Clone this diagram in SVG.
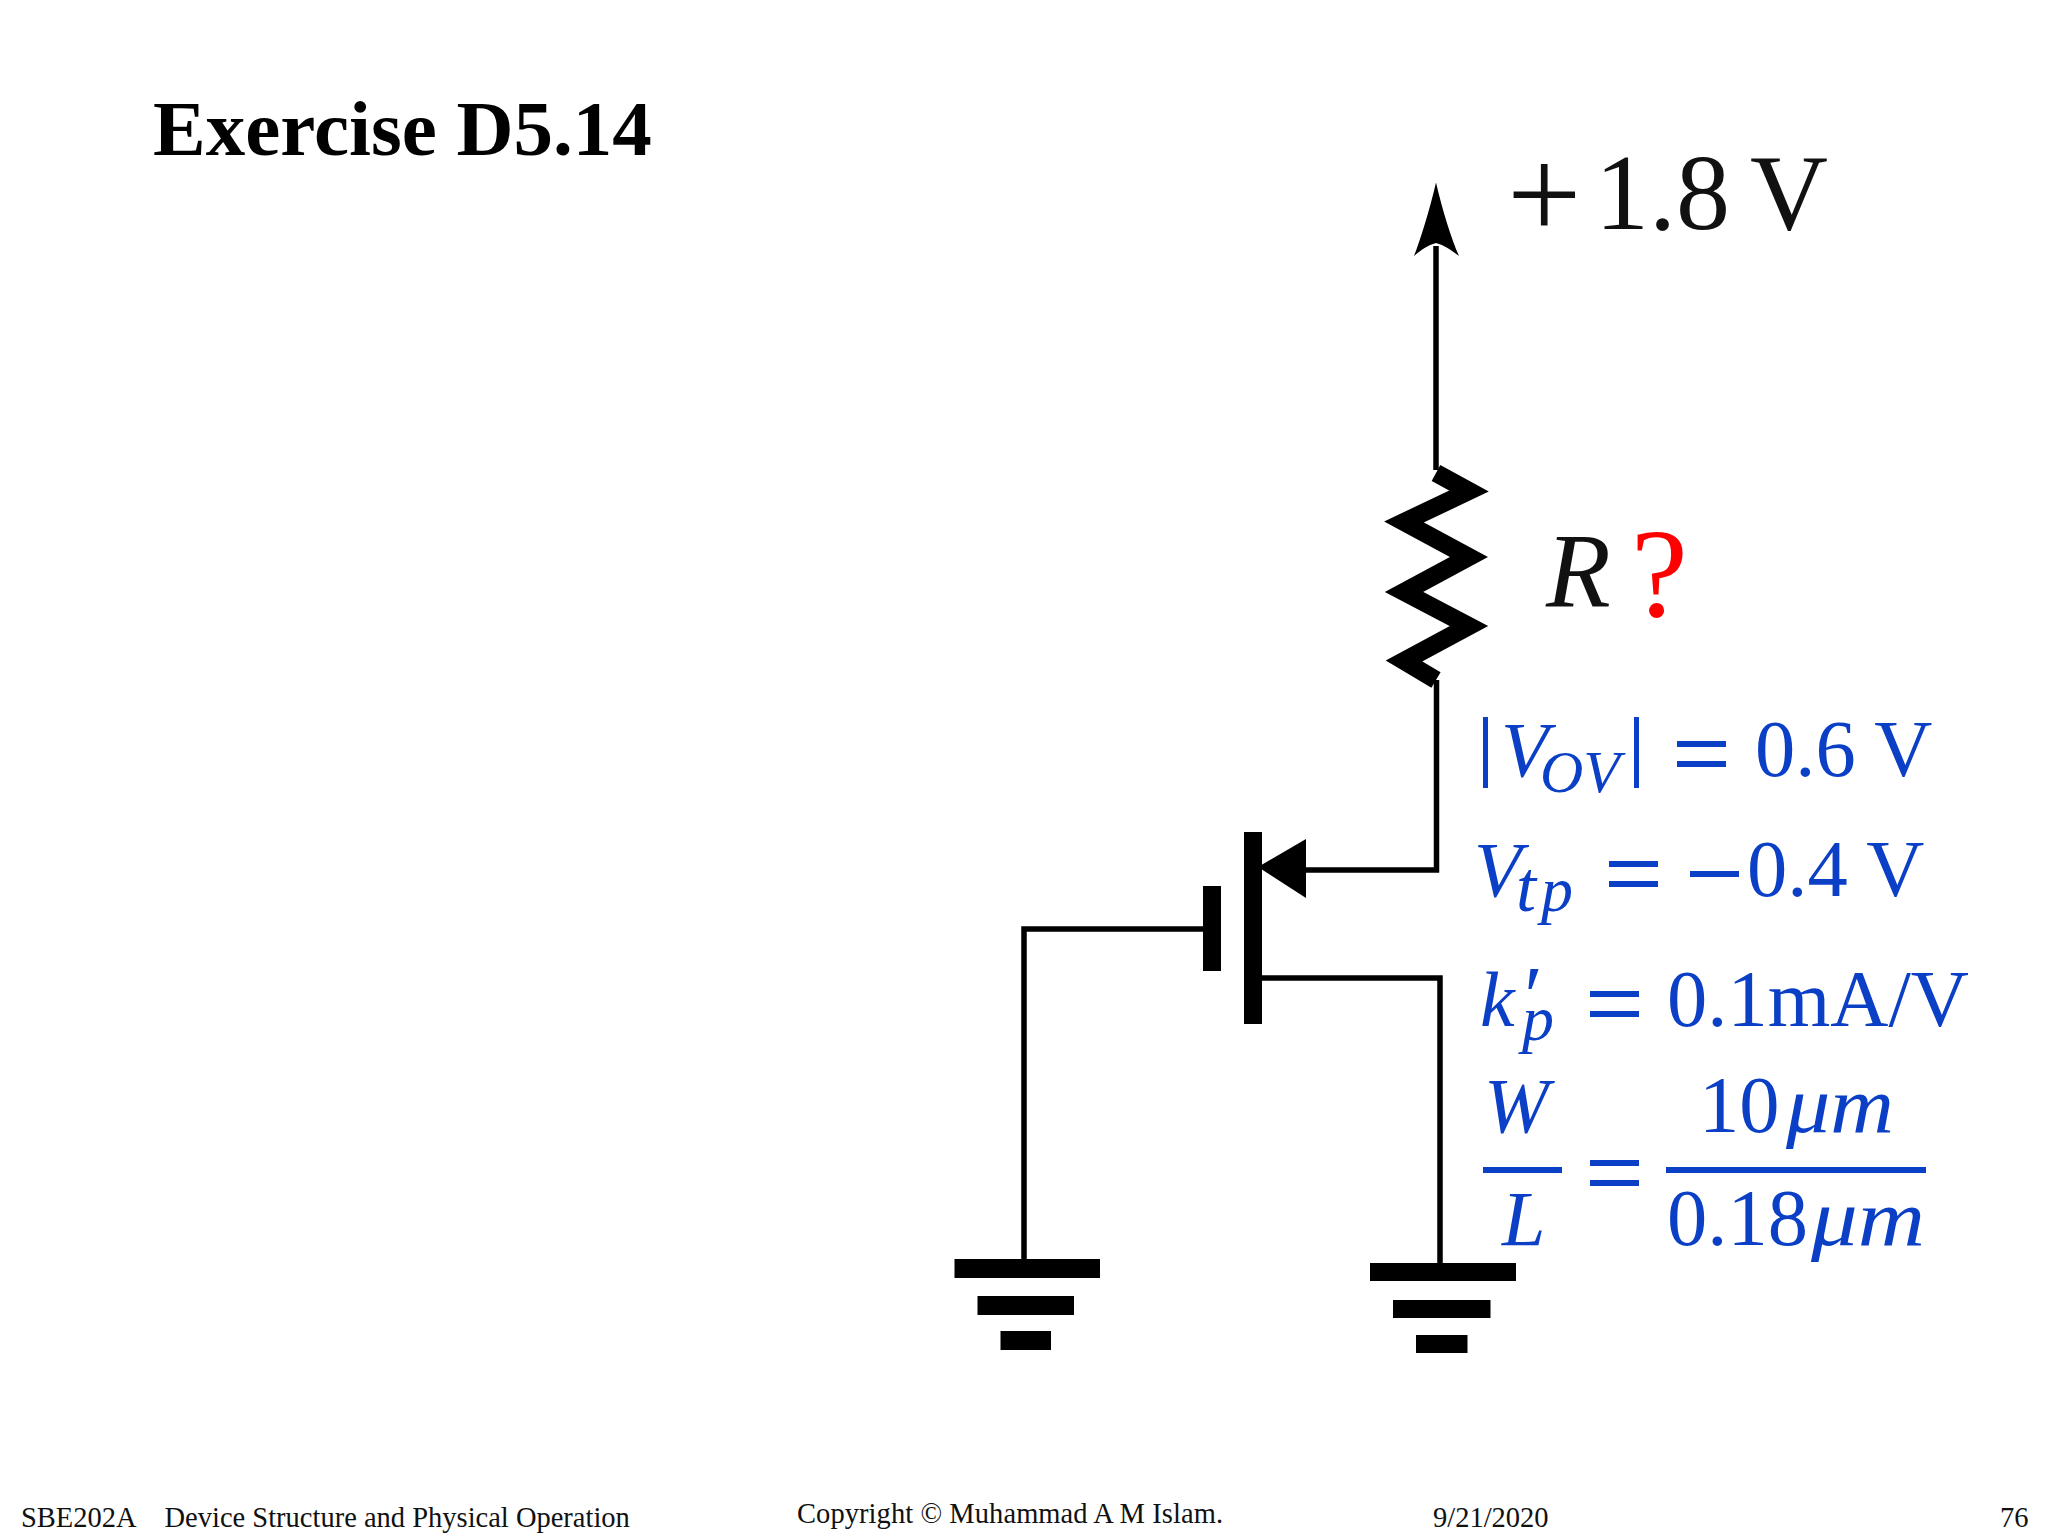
<svg xmlns="http://www.w3.org/2000/svg" width="2048" height="1536" viewBox="0 0 2048 1536">
<style>
text{font-family:"Liberation Serif","Times New Roman",serif}
.i{font-style:italic}
.b{fill:#0b3fc6}
.m{font-size:78px}
.n{font-size:80.5px}
.s{font-size:60px}
.f{font-size:28.5px;fill:#111}
.w{fill:none;stroke:#000;stroke-width:5.5;stroke-linejoin:miter}
.k{fill:#000}
.bb{fill:#0b3fc6}
.v{font-size:108px;fill:#111}
</style>
<rect width="2048" height="1536" fill="#fff"/>
<text id="title" x="153" y="155" font-size="79" font-weight="700" fill="#000">Exercise D5.14</text>
<g id="connectors">
<path class="w" d="M1436 246V470"/>
<path class="w" d="M1436.500 680V870H1300"/>
<path class="w" d="M1262 978H1440V1265"/>
<path class="w" d="M1203 929H1024V1260"/>
</g>
<g id="supply">
<path class="k" d="M1436 182.500C1443 212 1451 238 1459 256C1451 250 1444 245 1436 243C1428 245 1421 250 1414 256C1421 238 1429 212 1436 182.500Z"/>
<text class="v" x="1507" y="238" style="font-size:132px">+</text>
<text class="v" x="1595" y="229">1.8</text>
<text class="v" x="1750" y="229">V</text>
</g>
<g id="resistor">
<path fill="none" stroke="#000" stroke-width="18" stroke-miterlimit="6" d="M1436 473L1469 491L1404 522L1469 557L1404 592L1469 626L1404 661L1436 680"/>
<text class="i" x="1546" y="606" font-size="106" fill="#111">R</text>
<text x="1631" y="616" font-size="128" fill="#f00">?</text>
</g>
<g id="transistor">
<rect class="k" x="1244" y="832" width="18" height="192"/>
<rect class="k" x="1203" y="886" width="18" height="85"/>
<path class="k" d="M1258 867L1306 839V898Z"/>
</g>
<g id="ground-left">
<rect class="k" x="954.500" y="1259" width="145.500" height="19"/>
<rect class="k" x="977.500" y="1296" width="96.500" height="19"/>
<rect class="k" x="1000.500" y="1331" width="50.500" height="19"/>
</g>
<g id="ground-right">
<rect class="k" x="1370" y="1263" width="146" height="18"/>
<rect class="k" x="1393" y="1300" width="97.500" height="18"/>
<rect class="k" x="1416" y="1335" width="51.500" height="18"/>
</g>
<g id="params">
<g id="vov">
<rect class="bb" x="1483" y="717" width="5" height="71"/>
<text class="i b m" x="1501" y="776">V<tspan class="s" x="1540" y="792">OV</tspan></text>
<rect class="bb" x="1634" y="717" width="5" height="71"/>
<rect class="bb" x="1677" y="741" width="49" height="6"/>
<rect class="bb" x="1677" y="761" width="49" height="6"/>
<text class="b n" x="1755" y="776">0.6 V</text>
</g>
<g id="vtp">
<text class="i b m" x="1474" y="896">V<tspan style="font-size:72px" x="1516" y="911">t</tspan><tspan style="font-size:64px" x="1541" y="911">p</tspan></text>
<rect class="bb" x="1609" y="861" width="49" height="6"/>
<rect class="bb" x="1609" y="881" width="49" height="6"/>
<rect class="bb" x="1690" y="871" width="49" height="6"/>
<text class="b n" x="1747" y="896">0.4 V</text>
</g>
<g id="kp">
<text class="i b m" x="1480" y="1026">k<tspan style="font-size:85px" x="1519" y="1025">′</tspan><tspan style="font-size:64px" x="1522" y="1040">p</tspan></text>
<rect class="bb" x="1590" y="991" width="49" height="6"/>
<rect class="bb" x="1590" y="1011" width="49" height="6"/>
<text class="b n" x="1667" y="1026">0.1mA/V</text>
</g>
<g id="ratio">
<text class="i b m" x="1484" y="1132">W</text>
<rect class="bb" x="1483" y="1167" width="79" height="6"/>
<text class="i b m" x="1502" y="1245">L</text>
<rect class="bb" x="1590" y="1160" width="49" height="6"/>
<rect class="bb" x="1590" y="1180" width="49" height="6"/>
<text class="b n" x="1699" y="1132">10<tspan class="i" x="1786" textLength="108" lengthAdjust="spacingAndGlyphs">μm</tspan></text>
<rect class="bb" x="1666" y="1167" width="260" height="6"/>
<text class="b n" x="1667" y="1245">0.18<tspan class="i" x="1811" textLength="114" lengthAdjust="spacingAndGlyphs">μm</tspan></text>
</g>
</g>
<g id="footer">
<text class="f" x="21" y="1527">SBE202A</text>
<text class="f" x="164.500" y="1527">Device Structure and Physical Operation</text>
<text class="f" x="797" y="1523" textLength="426">Copyright © Muhammad A M Islam.</text>
<text class="f" x="1433" y="1527">9/21/2020</text>
<text class="f" x="2000" y="1527">76</text>
</g>
</svg>
